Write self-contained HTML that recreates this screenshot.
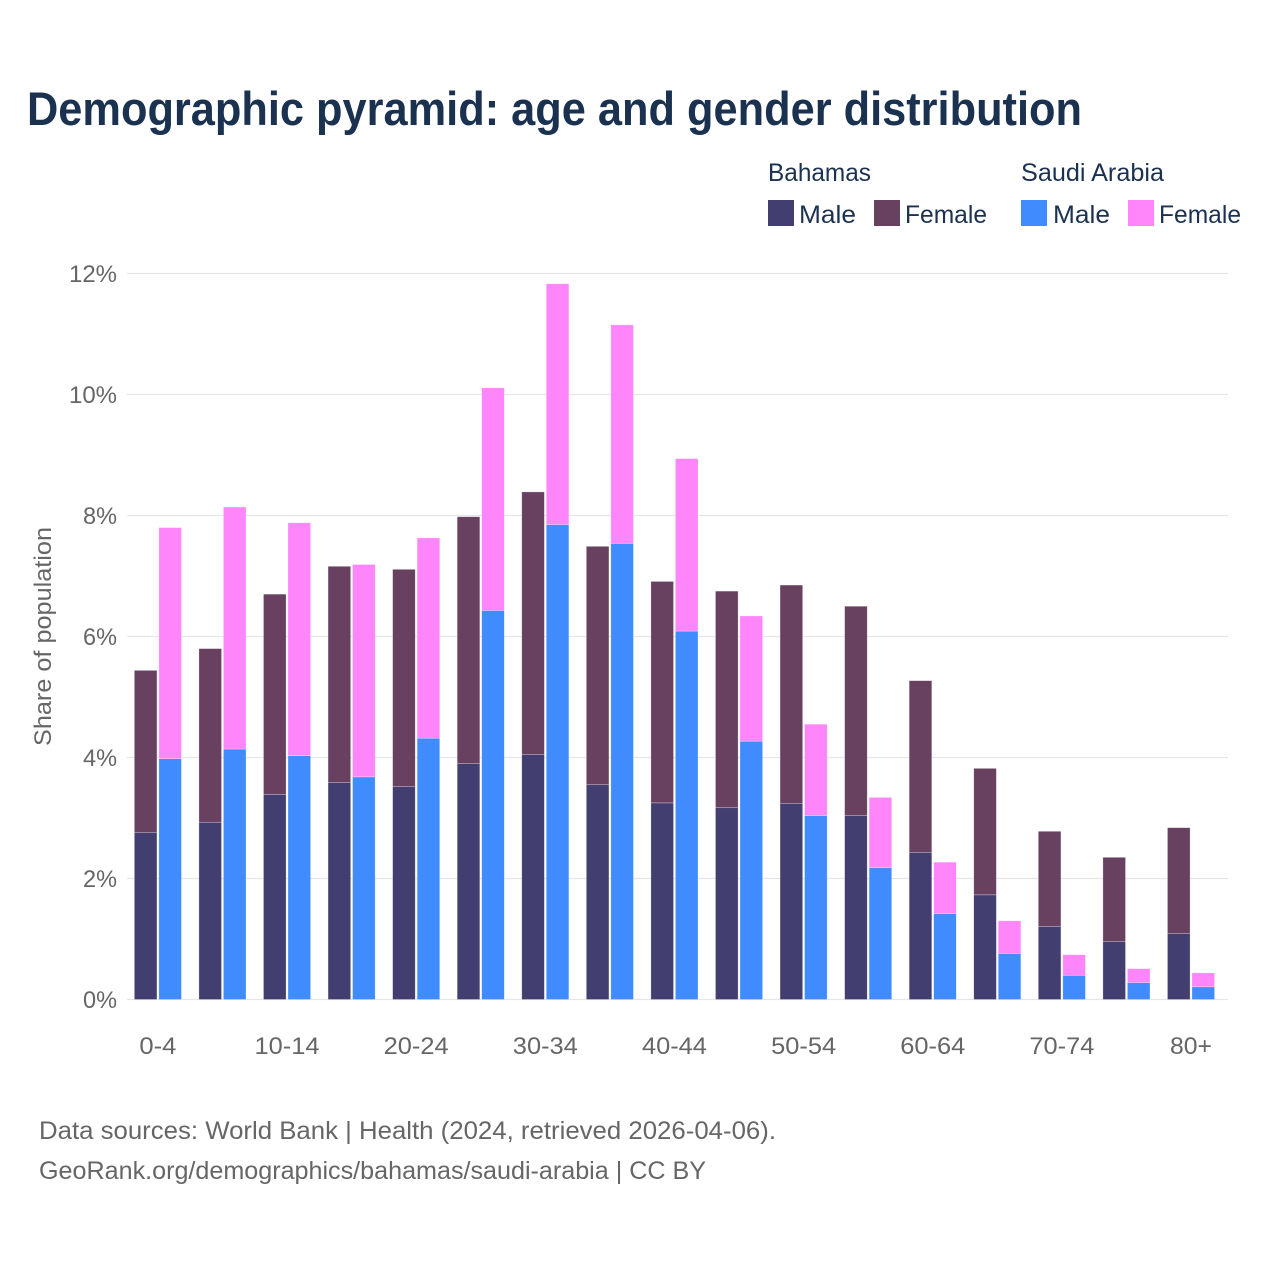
<!DOCTYPE html>
<html lang="en">
<head>
<meta charset="utf-8">
<title>Demographic pyramid: age and gender distribution</title>
<style>
html,body{margin:0;padding:0;background:#fff;width:1280px;height:1280px;overflow:hidden}
svg{display:block}
text{font-family:"Liberation Sans",sans-serif}
</style>
</head>
<body>
<svg id="chart" width="1280" height="1280" viewBox="0 0 1280 1280" xmlns="http://www.w3.org/2000/svg">
  <rect width="1280" height="1280" fill="#fff"/>
  <text x="27" y="125" font-size="47" font-weight="700" fill="#1a3150" textLength="1055" lengthAdjust="spacingAndGlyphs">Demographic pyramid: age and gender distribution</text>

  <g font-size="25" fill="#1a3150">
    <text x="768" y="181" textLength="103" lengthAdjust="spacingAndGlyphs">Bahamas</text>
    <text x="1021" y="181" textLength="143" lengthAdjust="spacingAndGlyphs">Saudi Arabia</text>
    <rect x="768" y="200" width="26" height="26" fill="#433e70"/>
    <text x="799" y="223" textLength="57" lengthAdjust="spacingAndGlyphs">Male</text>
    <rect x="874" y="200" width="26" height="26" fill="#684161"/>
    <text x="905" y="223" textLength="82" lengthAdjust="spacingAndGlyphs">Female</text>
    <rect x="1021" y="200" width="26" height="26" fill="#408cff"/>
    <text x="1053" y="223" textLength="57" lengthAdjust="spacingAndGlyphs">Male</text>
    <rect x="1128" y="200" width="26" height="26" fill="#ff85fa"/>
    <text x="1159" y="223" textLength="82" lengthAdjust="spacingAndGlyphs">Female</text>
  </g>

  <g id="grid"></g>
  <g id="bars"></g>
  <g id="ytick-labels"></g>
  <g id="xtick-labels"></g>

  <text transform="translate(51,746) rotate(-90)" font-size="24" fill="#666" textLength="219" lengthAdjust="spacingAndGlyphs">Share of population</text>

  <text x="39" y="1139" font-size="25" fill="#666" textLength="737" lengthAdjust="spacingAndGlyphs">Data sources: World Bank | Health (2024, retrieved 2026-04-06).</text>
  <text x="39" y="1179" font-size="25" fill="#666" textLength="667" lengthAdjust="spacingAndGlyphs">GeoRank.org/demographics/bahamas/saudi-arabia | CC BY</text>
</svg>
<script>
const categories = ["0-4","5-9","10-14","15-19","20-24","25-29","30-34","35-39","40-44","45-49","50-54","55-59","60-64","65-69","70-74","75-79","80+"];
const bahamasMale = [2.76,2.93,3.39,3.59,3.52,3.90,4.05,3.55,3.25,3.17,3.24,3.04,2.43,1.73,1.21,0.96,1.09];
const bahamasFemale = [2.68,2.87,3.31,3.57,3.59,4.08,4.34,3.94,3.66,3.58,3.61,3.46,2.84,2.09,1.57,1.39,1.75];
const saudiMale = [3.98,4.14,4.03,3.68,4.32,6.43,7.85,7.54,6.09,4.27,3.04,2.18,1.42,0.76,0.40,0.28,0.21];
const saudiFemale = [3.82,4.00,3.85,3.51,3.31,3.68,3.98,3.61,2.85,2.07,1.51,1.16,0.85,0.54,0.34,0.23,0.23];
const yTicks = [0,2,4,6,8,10,12];

const NS = "http://www.w3.org/2000/svg";
const yScale = v => 999.5 - v * 60.5;
const xCenter = i => 157.9 + i * 64.57;
const BAR_W = 22.6;
const BAR_GAP = 1.9;

function svgEl(tag, attrs) {
  const el = document.createElementNS(NS, tag);
  for (const k in attrs) el.setAttribute(k, attrs[k]);
  return el;
}

const grid = document.getElementById("grid");
const yLabels = document.getElementById("ytick-labels");
yTicks.forEach(t => {
  const line = svgEl("line", {x1: 127, x2: 1228, y1: yScale(t), y2: yScale(t), stroke: "#e6e6e6", "stroke-width": 1.2});
  
  
  grid.appendChild(line);
  const label = svgEl("text", {x: 117, y: yScale(t) + 8.5, "text-anchor": "end", "font-size": 24, fill: "#666", textLength: t >= 10 ? 48 : 34, lengthAdjust: "spacingAndGlyphs"});
  
  
  label.textContent = t + "%";
  yLabels.appendChild(label);
});

const barsGroup = document.getElementById("bars");
function addBar(x, base, value, fill, name) {
  const y0 = yScale(base);
  const y1 = yScale(base + value);
  const r = svgEl("rect", {x: x, y: y1, width: BAR_W, height: y0 - y1, fill: fill, stroke: "#fff", "stroke-opacity": 0.45, "stroke-width": 0.6});
  
  
  barsGroup.appendChild(r);
}
categories.forEach((c, i) => {
  const cx = xCenter(i);
  const x1 = cx - BAR_GAP / 2 - BAR_W;
  const x2 = cx + BAR_GAP / 2;
  addBar(x1, 0, bahamasMale[i], "#433e70", "bar-bahamas-male");
  addBar(x1, bahamasMale[i], bahamasFemale[i], "#684161", "bar-bahamas-female");
  addBar(x2, 0, saudiMale[i], "#408cff", "bar-saudi-male");
  addBar(x2, saudiMale[i], saudiFemale[i], "#ff85fa", "bar-saudi-female");
});

const xLabels = document.getElementById("xtick-labels");
categories.forEach((c, i) => {
  if (i % 2 !== 0) return;
  const width = c.length === 3 ? (c === "80+" ? 42 : 37) : 65;
  const label = svgEl("text", {x: xCenter(i), y: 1054, "text-anchor": "middle", "font-size": 24, fill: "#666", textLength: width, lengthAdjust: "spacingAndGlyphs"});
  
  
  label.textContent = c;
  xLabels.appendChild(label);
});
</script>
</body>
</html>
